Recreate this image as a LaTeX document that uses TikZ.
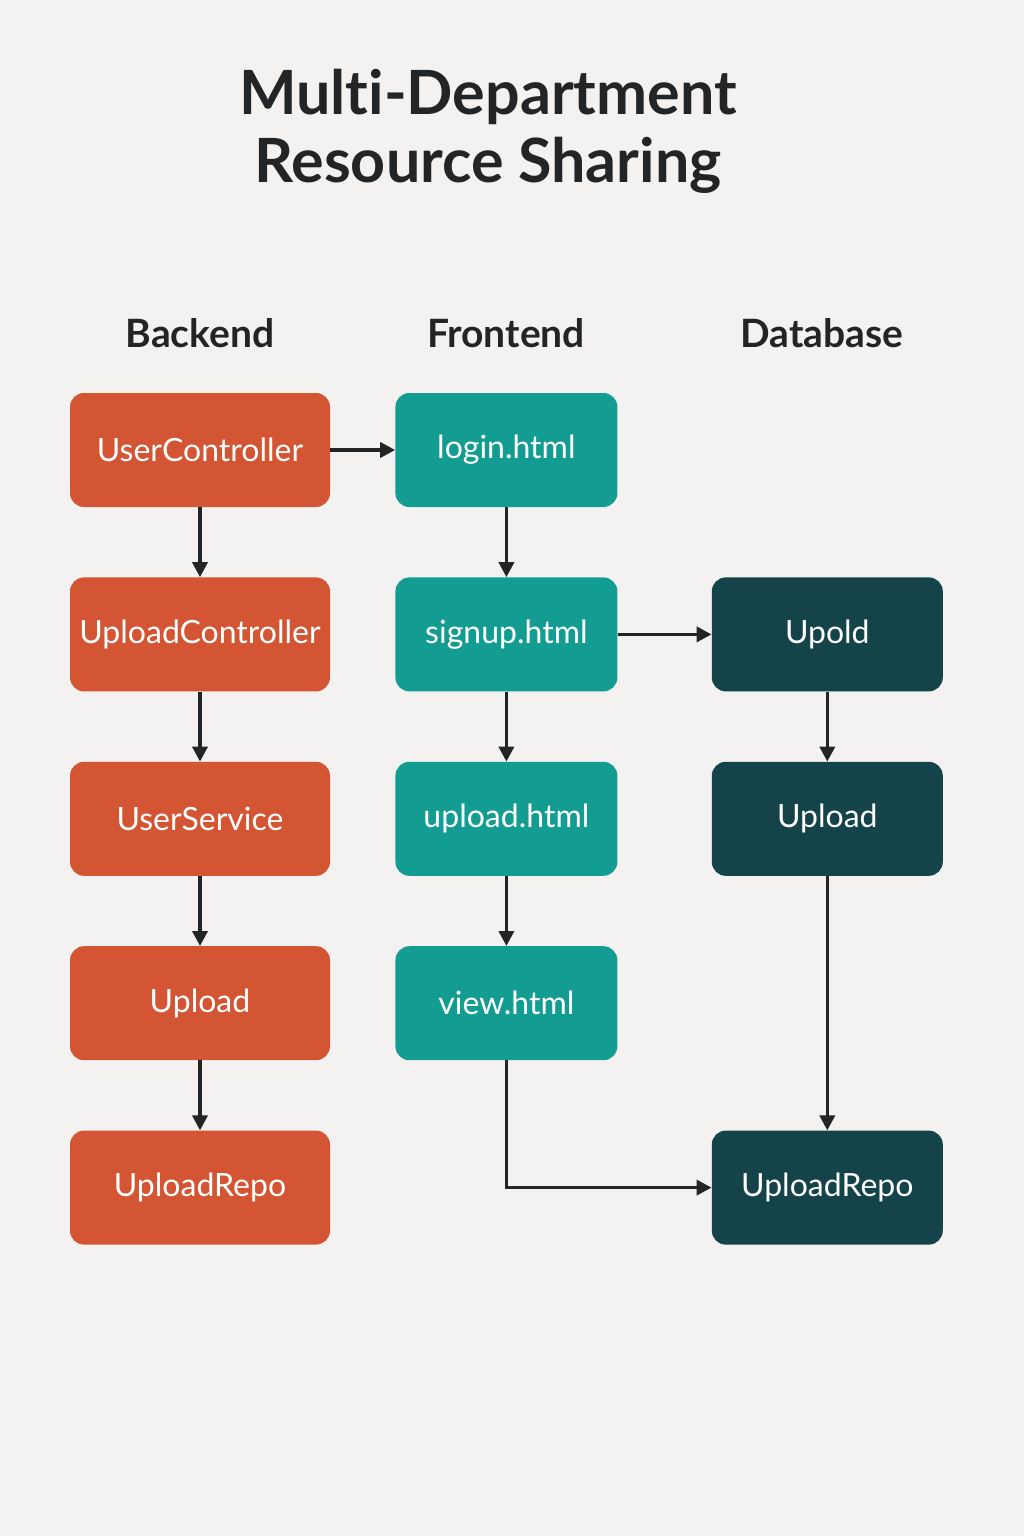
\documentclass[tikz,border=0pt]{standalone}
\usepackage{fontspec}
\setmainfont{Lato}[Ligatures=NoCommon]
\usetikzlibrary{arrows.meta,positioning}
\tikzset{
  colbox/.style={rounded corners=14pt, align=center, text=white,
                 minimum height=114pt, text width=#1, inner sep=0pt,
                 font=\fontsize{32}{36}\selectfont},
  colbox/.default=260pt,
  backbox/.style ={colbox, fill=backorange},
  frontbox/.style={colbox=222pt, fill=frontteal},
  dbbox/.style   ={colbox=231pt, fill=dbteal},
  headtext/.style={font=\fontsize{39}{44}\selectfont\bfseries, text=inkgray},
  titletext/.style={font=\fontsize{61}{68}\selectfont\bfseries, text=inkgray,
                 align=center},
  arr/.style     ={-{Triangle[length=15pt,width=15pt]}, line width=3.5pt,
                   draw=inkgray},
}
\definecolor{backorange}{RGB}{211,85,51}
\definecolor{frontteal} {RGB}{19,157,146}
\definecolor{dbteal}    {RGB}{20,67,74}
\definecolor{inkgray}   {RGB}{34,36,38}
\definecolor{paper}     {RGB}{243,242,240}

\begin{document}
\begin{tikzpicture}[x=1pt, y=-1pt, node distance=70pt]
  \fill[paper] (0,0) rectangle (1024,1536);
  \node[titletext] (title) at (488,131) {Multi-Department\\Resource Sharing};
  \node[headtext] (hback)  at (200,333) {Backend};
  \node[headtext] (hfront) at (506,333) {Frontend};
  \node[headtext] (hdb)    at (822,333) {Database};
  % backend column
  \node[backbox] (userctrl) at (200,450) {UserController};
  \node[backbox, below=of userctrl]   (uploadctrl) {UploadController};
  \node[backbox, below=of uploadctrl] (userserv)   {UserService};
  \node[backbox, below=of userserv]   (backupload) {Upload};
  \node[backbox, below=of backupload] (backrepo)   {UploadRepo};
  % frontend column
  \node[frontbox, right=65pt of userctrl] (login)  {login.html};
  \node[frontbox, below=of login]         (signup) {signup.html};
  \node[frontbox, below=of signup]        (upload) {upload.html};
  \node[frontbox, below=of upload]        (view)   {view.html};
  % database column
  \node[dbbox, right=94pt of signup] (upold)    {Upold};
  \node[dbbox, below=of upold]       (dbupload) {Upload};
  \node[dbbox] (dbrepo) at (upold |- backrepo) {UploadRepo};
  \draw[arr] (userctrl) -- (login);
  \draw[arr] (userctrl) -- (uploadctrl);
  \draw[arr] (uploadctrl) -- (userserv);
  \draw[arr] (userserv) -- (backupload);
  \draw[arr] (backupload) -- (backrepo);
  \draw[arr] (login) -- (signup);
  \draw[arr] (signup) -- (upload);
  \draw[arr] (upload) -- (view);
  \draw[arr] (signup) -- (upold);
  \draw[arr] (upold) -- (dbupload);
  \draw[arr] (dbupload) -- (dbrepo);
  \draw[arr] (view) |- (dbrepo);
\end{tikzpicture}
\end{document}
